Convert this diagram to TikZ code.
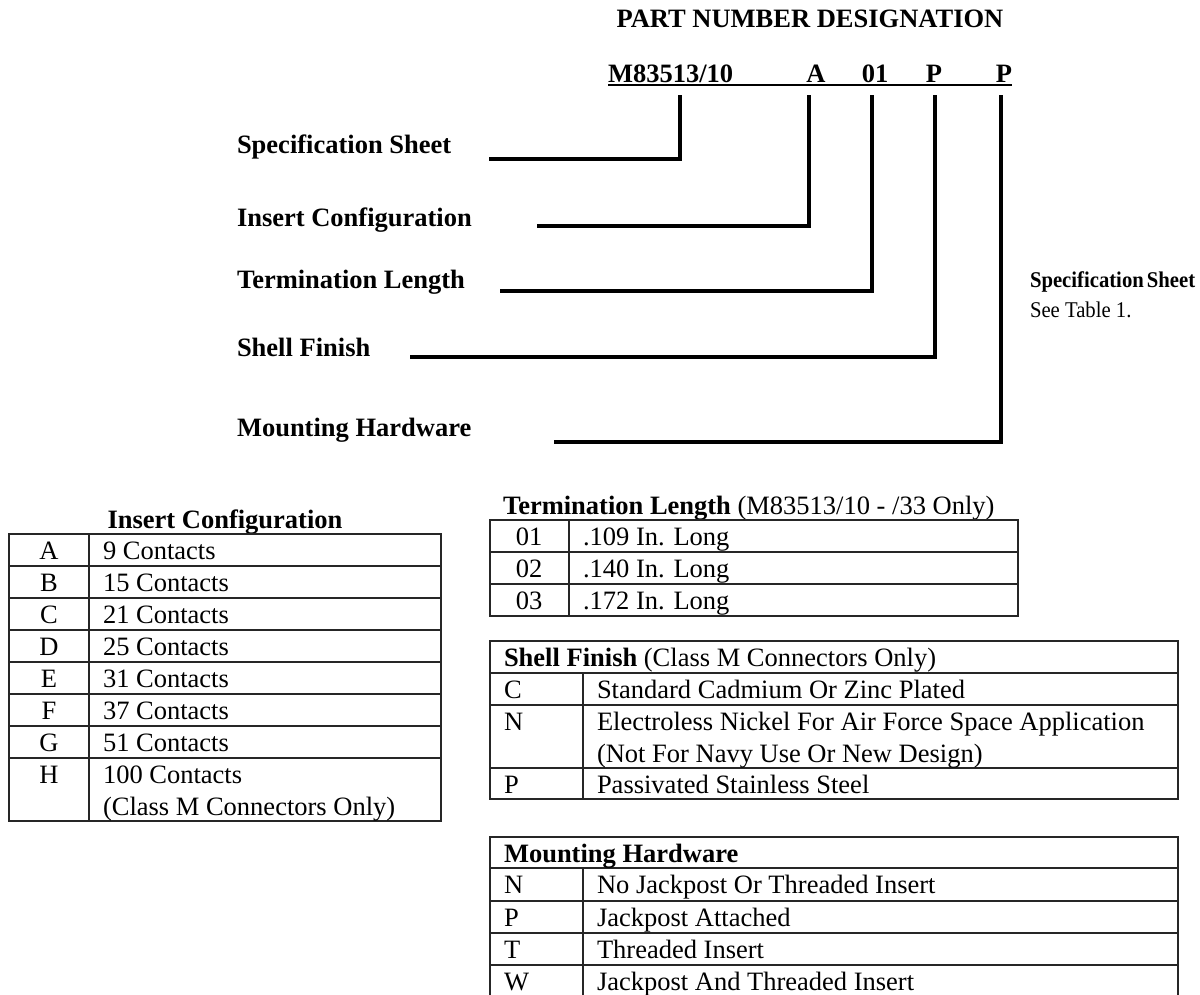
\documentclass[tikz,border=0pt]{standalone}
\usepackage{fontspec}
\setmainfont{Liberation Serif}
\begin{document}
\begin{tikzpicture}[x=1pt,y=-1pt,
  txt/.style={inner sep=0pt, outer sep=0pt, font=\fontsize{26.5}{30}\selectfont},
  bt/.style={inner sep=0pt, outer sep=0pt, font=\fontsize{26.5}{30}\selectfont\bfseries},
  note/.style={inner sep=0pt, outer sep=0pt, font=\fontsize{22.5}{24}\selectfont},
  conn/.style={line width=4pt, line join=miter},
  grid/.style={line width=1.2pt, draw=black!85}
]
\useasboundingbox (0,0) rectangle (1200,994);

% ---------- header ----------
\node[bt, anchor=base] (title) at (810,27) {PART NUMBER DESIGNATION};
\node[bt, anchor=base west] (pn) at (608,82) {M83513/10};
\node[bt, anchor=base] (pa) at (816,82) {A};
\node[bt, anchor=base] (p01) at (875,82) {01};
\node[bt, anchor=base] (pp1) at (934,82) {P};
\node[bt, anchor=base] (pp2) at (1004,82) {P};
\draw[line width=1.8pt] ([yshift=-3pt]pn.base west) -- ([yshift=-3pt]pp2.base east);

% ---------- labels ----------
\node[bt, anchor=base west] (lspec)  at (237,153) {Specification Sheet};
\node[bt, anchor=base west] (lins)   at (237,226) {Insert Configuration};
\node[bt, anchor=base west] (lterm)  at (237,288) {Termination Length};
\node[bt, anchor=base west] (lshell) at (237,356) {Shell Finish};
\node[bt, anchor=base west] (lmount) at (237,436) {Mounting Hardware};

% ---------- connectors ----------
\coordinate (t1) at (680,95);  \coordinate (e1) at (489,159);
\coordinate (t2) at (809,95);  \coordinate (e2) at (537,226);
\coordinate (t3) at (872,95);  \coordinate (e3) at (500,291);
\coordinate (t4) at (935,95);  \coordinate (e4) at (410,357);
\coordinate (t5) at (1001,95); \coordinate (e5) at (554,442);
\draw[conn] (t1) |- (e1);
\draw[conn] (t2) |- (e2);
\draw[conn] (t3) |- (e3);
\draw[conn] (t4) |- (e4);
\draw[conn] (t5) |- (e5);

% ---------- note ----------
\node[note, anchor=base west] (nspec) at (1030,287) {\scalebox{0.92}[1]{\bfseries Specification\hspace{0.15em}Sheet}};
\node[note, anchor=base west] (nsee) at (1030,317) {\scalebox{0.92}[1]{See Table 1.}};

% ---------- Insert Configuration table ----------
\node[bt, anchor=base] (ictitle) at (225,528) {Insert Configuration};
\draw[grid] (9,534) rectangle (441,821);
\draw[grid] (89,534) -- (89,821);
\foreach \yy in {566,598,630,662,694,726,758}
  \draw[grid] (9,\yy) -- (441,\yy);
\foreach \c/\t/\yy [count=\i] in {A/9 Contacts/559, B/15 Contacts/591, C/21 Contacts/623,
   D/25 Contacts/655, E/31 Contacts/687, F/37 Contacts/719, G/51 Contacts/751, H/100 Contacts/783}{
  \node[txt, anchor=base] (icc\i) at (49,\yy) {\c};
  \node[txt, anchor=base west] (ict\i) at (103,\yy) {\t};
}
\node[txt, anchor=base west] (ict9) at (103,815) {(Class M Connectors Only)};

% ---------- Termination Length table ----------
\node[txt, anchor=base west] (tltitle) at (503,514) {\textbf{Termination Length} (M83513/10 - /33 Only)};
\draw[grid] (490,520) rectangle (1018,616);
\draw[grid] (569,520) -- (569,616);
\draw[grid] (490,552) -- (1018,552);
\draw[grid] (490,584) -- (1018,584);
\foreach \c/\t/\yy [count=\i] in {01/.109 In. Long/545, 02/.140 In. Long/577, 03/.172 In. Long/609}{
  \node[txt, anchor=base] (tlc\i) at (529,\yy) {\c};
  \node[txt, anchor=base west] (tlt\i) at (583,\yy) {\t};
}

% ---------- Shell Finish table ----------
\draw[grid] (490,641) rectangle (1178,799);
\draw[grid] (490,673) -- (1178,673);
\draw[grid] (490,705) -- (1178,705);
\draw[grid] (490,768) -- (1178,768);
\draw[grid] (583,673) -- (583,799);
\node[txt, anchor=base west] (sfh) at (504,666) {\textbf{Shell Finish} (Class M Connectors Only)};
\node[txt, anchor=base west] (sfc1) at (504,698) {C};
\node[txt, anchor=base west] (sft1) at (597,698) {Standard Cadmium Or Zinc Plated};
\node[txt, anchor=base west] (sfc2) at (504,730) {N};
\node[txt, anchor=base west] (sft2) at (597,730) {Electroless Nickel For Air Force Space Application};
\node[txt, anchor=base west] (sft2b) at (597,762) {(Not For Navy Use Or New Design)};
\node[txt, anchor=base west] (sfc3) at (504,793) {P};
\node[txt, anchor=base west] (sft3) at (597,793) {Passivated Stainless Steel};

% ---------- Mounting Hardware table ----------
\draw[grid] (490,995) -- (490,837) -- (1178,837) -- (1178,995);
\foreach \yy in {868,901,933,965}
  \draw[grid] (490,\yy) -- (1178,\yy);
\draw[grid] (583,868) -- (583,995);
\node[bt, anchor=base west] (mhh) at (504,862) {Mounting Hardware};
\foreach \c/\t/\yy [count=\i] in {N/No Jackpost Or Threaded Insert/893, P/Jackpost Attached/926,
   T/Threaded Insert/958, W/Jackpost And Threaded Insert/990}{
  \node[txt, anchor=base west] (mhc\i) at (504,\yy) {\c};
  \node[txt, anchor=base west] (mht\i) at (597,\yy) {\t};
}
\end{tikzpicture}
\end{document}
